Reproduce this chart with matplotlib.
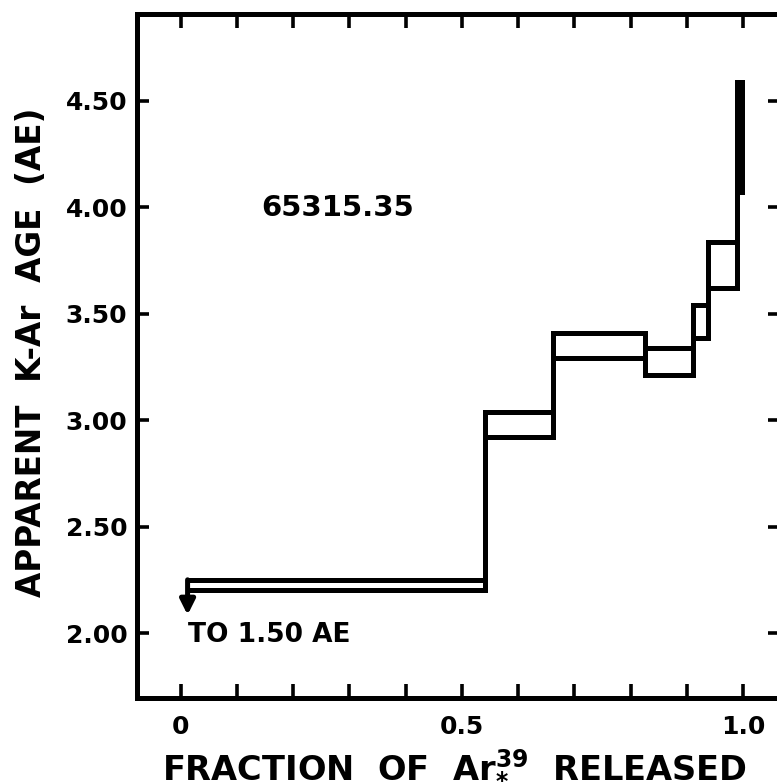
import matplotlib
matplotlib.use('Agg')
import matplotlib.pyplot as plt
import numpy as np

plt.rcParams['font.family'] = ['DejaVu Sans']
plt.rcParams['font.weight'] = 'bold'
plt.rcParams['mathtext.default'] = 'bf'

# spectre d'age : bornes des paliers (fraction Ar39) et ages bas/haut (AE)
frac_edges = [0.012, 0.541, 0.662, 0.826, 0.911, 0.938, 0.989, 0.999]
age_low = [2.20, 2.92, 3.29, 3.21, 3.385, 3.62, 4.07]
age_high = [2.25, 3.04, 3.41, 3.34, 3.54, 3.836, 4.59]
arrow_to = 2.085  # premier palier hors echelle (1.50 AE)

sample = "65315.35"
x_ticks = [0, 0.5, 1.0]
x_ticklabels = ["0", "0.5", "1.0"]
y_ticks = [2.00, 2.50, 3.00, 3.50, 4.00, 4.50]
y_ticklabels = ["2.00", "2.50", "3.00", "3.50", "4.00", "4.50"]

lw = 3.6

fig = plt.figure(figsize=(7.77, 7.83), dpi=100)
ax = fig.add_axes([0.1763, 0.1086, 0.8277, 0.8735])

n = len(age_low)
for i in range(n):
    x0, x1 = frac_edges[i], frac_edges[i + 1]
    ax.hlines([age_low[i], age_high[i]], x0, x1, colors='k', lw=lw, capstyle='projecting')
# verticales entre paliers
for j in range(1, n):
    lo = min(age_low[j - 1], age_low[j])
    hi = max(age_high[j - 1], age_high[j])
    ax.vlines(frac_edges[j], lo, hi, colors='k', lw=lw)
ax.vlines(frac_edges[-1], age_low[-1], age_high[-1], colors='k', lw=lw)
ax.fill_between(frac_edges[-2:], age_low[-1], age_high[-1], color='k', lw=0)

# fleche du premier palier
ax.annotate('', xy=(frac_edges[0], arrow_to), xytext=(frac_edges[0], age_high[0]),
            arrowprops=dict(arrowstyle='-|>', color='k', lw=lw, mutation_scale=22,
                            shrinkA=0, shrinkB=0))
ax.text(frac_edges[0], 1.99, "TO 1.50 AE", fontsize=19, fontweight='bold',
        ha='left', va='center')
ax.text(0.279, 3.995, sample, fontsize=21, fontweight='bold', ha='center', va='center')

ax.set_xlim(-0.078, 1.066)
ax.set_ylim(1.695, 4.908)

ax.set_xticks(x_ticks)
ax.set_xticklabels(x_ticklabels)
ax.set_xticks(np.arange(0.1, 1.0, 0.1), minor=True)
ax.set_yticks(y_ticks)
ax.set_yticklabels(y_ticklabels)

ax.tick_params(axis='x', which='both', direction='in', top=True, length=10, width=2.6,
               labelsize=18, pad=12)
ax.tick_params(axis='y', which='both', direction='in', right=True, length=8.5, width=2.6,
               labelsize=18, pad=7)
for lab in ax.get_xticklabels() + ax.get_yticklabels():
    lab.set_fontweight('bold')
for s in ax.spines.values():
    s.set_linewidth(lw)

fig.text(32 / 777, 1 - 352 / 783, "APPARENT  K-Ar  AGE  (AE)", rotation=90,
         fontsize=23.5, fontweight='bold', ha='center', va='center')
fig.text(454 / 777, 1 - 775 / 783, r"FRACTION  OF  Ar$^{39}_{*}$  RELEASED",
         fontsize=24.2, fontweight='bold', ha='center', va='baseline')

fig.savefig('out.png', dpi=100)
